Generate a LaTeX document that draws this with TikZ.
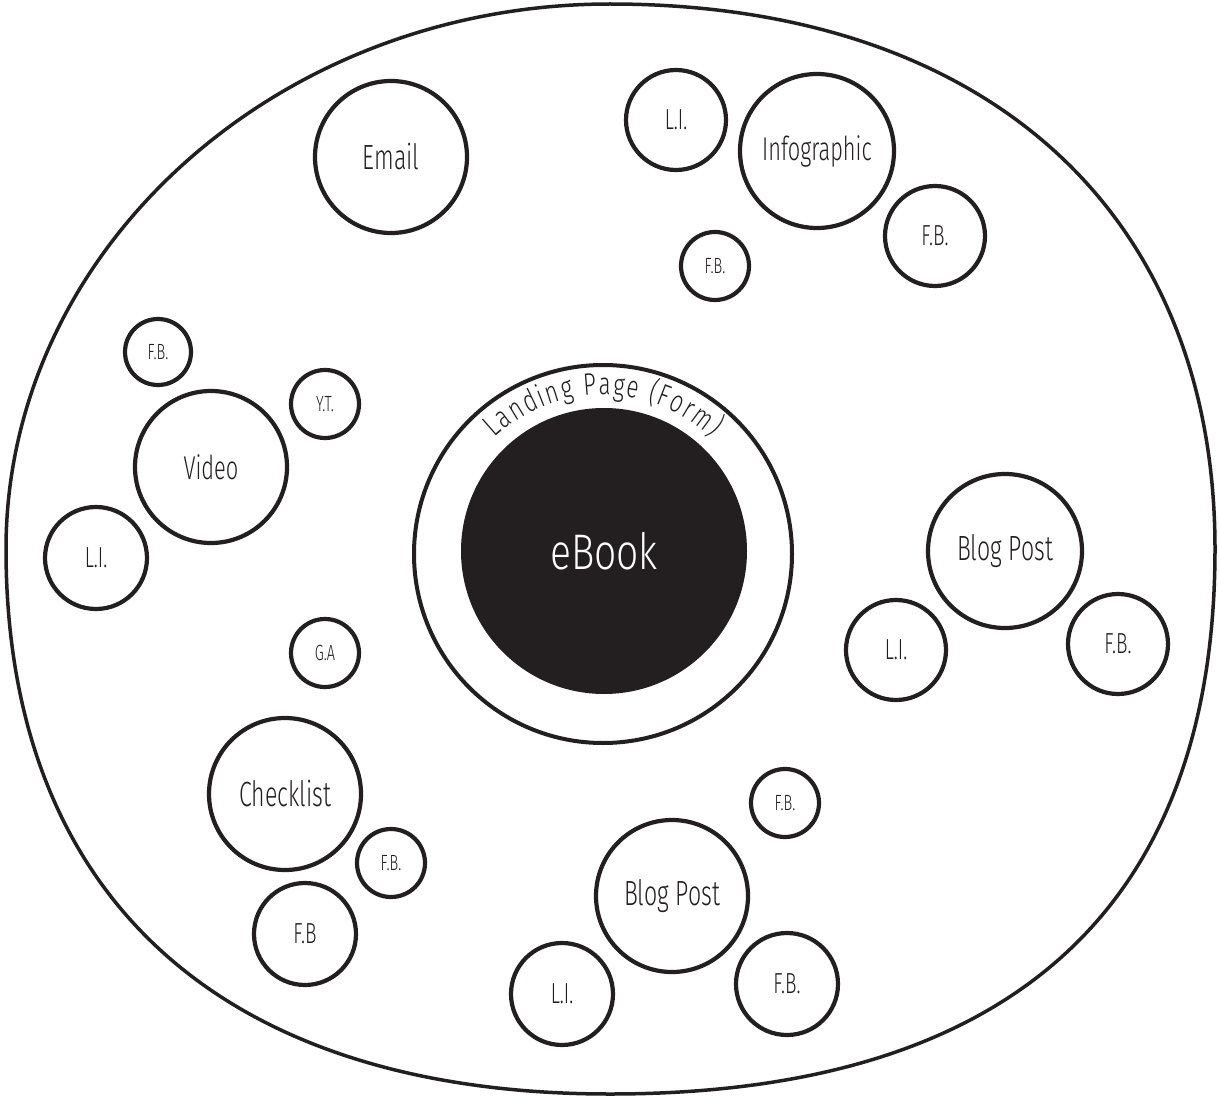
\documentclass[tikz,border=0pt]{standalone}
\usepackage{fontspec}
\usetikzlibrary{decorations.text}
\newfontfamily\hand[FakeStretch=0.66]{Fira Sans Light}
\newfontfamily\handwide[FakeStretch=0.78]{Fira Sans Light}
\newfontfamily\handarc[FakeStretch=0.72]{Fira Sans Light}
\definecolor{ink}{HTML}{231F20}
\begin{document}
\begin{tikzpicture}[x=1pt,y=-1pt,
  bub/.style={circle,draw=ink,line width=4.2pt,inner sep=0pt,minimum size=#1,text=ink},
  bigtxt/.style={font=\hand\fontsize{35}{40}\selectfont},
  midtxt/.style={font=\hand\fontsize{33}{38}\selectfont},
  medtxt/.style={font=\hand\fontsize{29}{34}\selectfont},
  smalltxt/.style={font=\hand\fontsize{22}{26}\selectfont}]
\useasboundingbox (0,0) rectangle (1219,1097);
\fill[white] (0,0) rectangle (1219,1097);
% outer blob
\draw[ink,line width=3.5pt]
  (6,549) .. controls (6,249) and (278,4) .. (610,4)
  .. controls (985,4) and (1215,211) .. (1215,549)
  .. controls (1215,909) and (1009,1094) .. (610,1094)
  .. controls (223,1094) and (6,898) .. (6,549) -- cycle;
% centre
\node[bub=378pt,line width=4pt] (ring) at (603,554) {};
\node[circle,fill=ink,inner sep=0pt,minimum size=286pt,text=white,
      font=\handwide\fontsize{50}{56}\selectfont] (ebook) at (604,551) {eBook};
\begin{scope}[shift={(603,554)},x=1pt,y=1pt]
\path[decorate,decoration={text along path,text align=fit to path,
      text format delimiters={|}{|},
      text={|\handarc\fontsize{31}{34}\selectfont\color{ink}|Landing Page (Form)}}]
  (133:159pt) arc[start angle=133,end angle=47,radius=159pt];
\end{scope}
% top
\node[bub=152pt,bigtxt] (email) at (391,157) {Email};
\node[bub=100pt,medtxt] (liTop) at (676,120) {L.I.};
\node[bub=154pt,midtxt] (info) at (817,151) {Infographic};
\node[bub=100pt,medtxt] (fbTopR) at (935,236) {F.B.};
\node[bub=68pt,smalltxt] (fbTopS) at (715,266) {F.B.};
% video
\node[bub=66pt,smalltxt] (fbVidS) at (158,352) {F.B.};
\node[bub=68pt,smalltxt] (yt) at (325,404) {Y.T.};
\node[bub=152pt,midtxt] (video) at (211,467) {Video};
\node[bub=102pt,medtxt] (liVid) at (96,558) {L.I.};
\node[bub=68pt,smalltxt] (ga) at (325,653) {G.A};
% right blog
\node[bub=154pt,bigtxt] (blogR) at (1005,551) {Blog Post};
\node[bub=100pt,medtxt] (liR) at (896,650) {L.I.};
\node[bub=100pt,medtxt] (fbR) at (1118,644) {F.B.};
% checklist
\node[bub=152pt,bigtxt] (check) at (285,794) {Checklist};
\node[bub=68pt,smalltxt] (fbChS) at (391,863) {F.B.};
\node[bub=102pt,medtxt] (fbCh) at (305,934) {F.B};
% bottom blog
\node[bub=68pt,smalltxt] (fbBotS) at (785,803) {F.B.};
\node[bub=152pt,bigtxt] (blogB) at (672,896) {Blog Post};
\node[bub=102pt,medtxt] (liB) at (562,994) {L.I.};
\node[bub=102pt,medtxt] (fbB) at (787,984) {F.B.};
\end{tikzpicture}
\end{document}
